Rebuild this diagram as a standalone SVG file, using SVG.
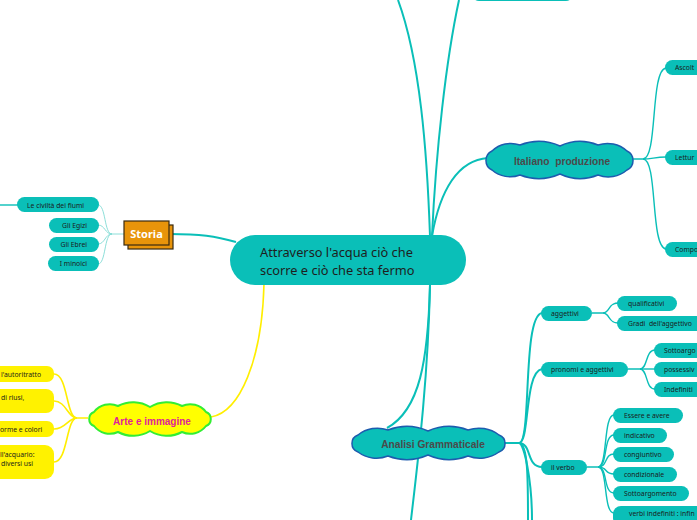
<svg xmlns="http://www.w3.org/2000/svg" width="697" height="520" viewBox="0 0 697 520">
<style>
.pill{fill:#0abfb8}
.ypill{fill:#fff200}
.t{font-family:"Noto Sans","Open Sans",sans-serif;font-size:6.8px;fill:#1a1a1a}
.main{fill:none;stroke:#0abfb8;stroke-width:2}
.sub{fill:none;stroke:#0abfb8;stroke-width:1.4}
.thin{fill:none;stroke:#7fdad4;stroke-width:0.9}
.yel{fill:none;stroke:#ffee00;stroke-width:1.6}
.cloudT{font-family:"Liberation Sans",Arial,sans-serif;font-weight:bold;font-size:10.2px;fill:#4a4a4a}
</style>
<rect width="697" height="520" fill="#ffffff"/>
<g id="connectors">
<path class="main" d="M170,234 C200,234 215,236 236,242"/>
<path class="yel" d="M264,284 C262,360 240,412 211,417"/>
<path class="main" d="M432,236 C440,190 458,160 488,158"/>
<path class="main" d="M430,236 C427,150 420,60 398,0"/>
<path class="main" d="M432,236 C436,150 446,60 459,0"/>
<path class="main" d="M430,285 C428,360 420,410 387,428"/>
<path class="main" d="M430,285 C428,380 418,460 411,520"/>
<path class="sub" d="M0,205 L18,205"/>
<path class="thin" d="M124,234 L112,234 C104,234 106,205 98,205"/>
<path class="thin" d="M112,234 C105,234 105,225 98,225"/>
<path class="thin" d="M112,234 C105,234 105,244 98,244"/>
<path class="thin" d="M112,234 C104,234 106,264 98,264"/>
<path class="yel" d="M88,418 L77,418 C66,418 68,374 54,374"/>
<path class="yel" d="M77,418 C68,418 66,401 54,401"/>
<path class="yel" d="M77,418 C68,418 66,429 54,429"/>
<path class="yel" d="M77,418 C66,418 68,462 54,462"/>
<path class="sub" d="M632,159 L643,159 C658,159 650,70 666,68"/>
<path class="sub" d="M643,159 C652,159 655,157 666,157"/>
<path class="sub" d="M643,159 C658,159 650,247 666,249"/>
<path class="main" d="M505,443 L519,443 C532,443 522,316 542,313"/>
<path class="main" d="M519,443 C530,443 524,372 542,369"/>
<path class="main" d="M519,443 C532,443 526,467 542,467"/>
<path class="main" d="M519,443 C528,443 528,480 528,520"/>
<path class="main" d="M519,443 C524,443 532,480 532,520"/>
<path class="sub" d="M592,313 L603,313 C610,313 608,303 618,303"/>
<path class="sub" d="M603,313 C610,313 608,323 618,323"/>
<path class="sub" d="M628,369 L640,369 C648,369 645,350 655,350"/>
<path class="sub" d="M640,369 L655,369"/>
<path class="sub" d="M640,369 C648,369 645,389 655,389"/>
<path class="sub" d="M587,467 L598,467 C608,467 603,415 614,415"/>
<path class="sub" d="M598,467 C608,467 603,435 614,435"/>
<path class="sub" d="M598,467 C608,467 604,454 614,454"/>
<path class="sub" d="M598,467 C608,467 604,474 614,474"/>
<path class="sub" d="M598,467 C608,467 603,493 614,493"/>
<path class="sub" d="M598,467 C608,467 603,513 614,513"/>
</g>
<g id="central">
<rect x="230" y="235" width="236" height="50" rx="25" fill="#0abfb8"/>
<text x="260" y="257" font-family="'Noto Sans','Open Sans',sans-serif" font-size="12.8" fill="#1e1e1e">Attraverso l'acqua ciò che</text>
<text x="260" y="275" font-family="'Noto Sans','Open Sans',sans-serif" font-size="12.8" fill="#1e1e1e">scorre e ciò che sta fermo</text>
</g>
<g id="storia">
<rect x="128" y="225" width="45" height="24" fill="#e8940a" stroke="#3a2a10" stroke-width="1.2"/>
<rect x="124" y="221" width="45" height="24" fill="#e8940a" stroke="#3a2a10" stroke-width="1.2"/>
<text x="146.5" y="237.5" text-anchor="middle" font-family="'Noto Sans','Open Sans',sans-serif" font-weight="bold" font-size="11" fill="#ffffff">Storia</text>
</g>
<g id="storia-civilta"><rect class="pill" x="17" y="197" width="82" height="15" rx="7.5"/><text class="t" x="27" y="207.5">Le civiltà dei fiumi</text></g>
<g id="storia-egizi"><rect class="pill" x="49" y="218" width="50" height="15" rx="7.5"/><text class="t" x="87" y="227.5" text-anchor="end">Gli Egizi</text></g>
<g id="storia-ebrei"><rect class="pill" x="49" y="237" width="50" height="15" rx="7.5"/><text class="t" x="87" y="247" text-anchor="end">Gli Ebrei</text></g>
<g id="storia-minoici"><rect class="pill" x="48" y="256" width="51" height="15" rx="7.5"/><text class="t" x="87" y="266" text-anchor="end">I minoici</text></g>
<g id="arte">
<path d="M94,412 A20,20 0 0 1 118,406 A32,32 0 0 1 150,407 A32,32 0 0 1 182,406 A20,20 0 0 1 206,412 A7.5,7.5 0 0 1 206,426 A20,20 0 0 1 182,432 A32,32 0 0 1 150,431 A32,32 0 0 1 118,432 A20,20 0 0 1 94,426 A7.5,7.5 0 0 1 94,412 Z" fill="#ffff00" stroke="#33ee33" stroke-width="2"/>
<text x="152" y="424.5" text-anchor="middle" font-family="'Liberation Sans',Arial,sans-serif" font-weight="bold" font-size="10" fill="#e0229a">Arte e immagine</text>
</g>
<g id="arte-1"><rect class="ypill" x="-20" y="366" width="74" height="16" rx="7"/><text class="t" x="1" y="376.5">l'autoritratto</text></g>
<g id="arte-2"><rect class="ypill" x="-20" y="389" width="74" height="24" rx="8"/><text class="t" x="1" y="399.5">di riusi,</text></g>
<g id="arte-3"><rect class="ypill" x="-20" y="421" width="74" height="16" rx="7"/><text class="t" x="0" y="431.5">orme e colori</text></g>
<g id="arte-4"><rect class="ypill" x="-20" y="445" width="74" height="34" rx="9"/><text class="t" x="0" y="456.5">ll'acquario:</text><text class="t" x="1" y="465.5">diversi usi</text></g>
<g id="top-node"><rect class="pill" x="472" y="-14" width="101" height="15" rx="7"/></g>
<g id="italiano">
<path d="M492,151 A27.5,27.5 0 0 1 520,145 A52,52 0 0 1 560,146 A47,47 0 0 1 598,145 A29,29 0 0 1 627,151 A10.5,10.5 0 0 1 627,170 A29,29 0 0 1 598,175 A47,47 0 0 1 560,174 A52,52 0 0 1 520,175 A27.7,27.7 0 0 1 492,170 A10.5,10.5 0 0 1 492,151 Z" fill="#0abfb8" stroke="#1d5cae" stroke-width="1.5"/>
<text class="cloudT" x="562" y="164.5" text-anchor="middle">Italiano&#160; produzione</text>
</g>
<g id="ital-ascolto"><rect class="pill" x="665" y="60" width="60" height="15" rx="7.5"/><text class="t" x="675" y="70">Ascolt</text></g>
<g id="ital-lettura"><rect class="pill" x="665" y="150" width="60" height="15" rx="7.5"/><text class="t" x="675" y="160">Lettur</text></g>
<g id="ital-compo"><rect class="pill" x="665" y="242" width="60" height="15" rx="7.5"/><text class="t" x="675" y="252">Compo</text></g>
<g id="analisi">
<path d="M358,435 A31,31 0 0 1 388,430 A52,52 0 0 1 428,431 A52,52 0 0 1 468,430 A33,33 0 0 1 499,435 A9,9 0 0 1 499,452 A33,33 0 0 1 468,456 A52,52 0 0 1 428,455 A52,52 0 0 1 388,456 A31,31 0 0 1 358,452 A9,9 0 0 1 358,435 Z" fill="#0abfb8" stroke="#1d5cae" stroke-width="1.5"/>
<text class="cloudT" x="433" y="447.5" text-anchor="middle">Analisi Grammaticale</text>
</g>
<g id="agg"><rect class="pill" x="541" y="306" width="51" height="15" rx="7.5"/><text class="t" x="551" y="316">aggettivi</text></g>
<g id="agg-qual"><rect class="pill" x="617" y="296" width="60" height="15" rx="7.5"/><text class="t" x="628" y="306">qualificativi</text></g>
<g id="agg-gradi"><rect class="pill" x="617" y="316" width="90" height="15" rx="7.5"/><text class="t" x="628" y="326">Gradi&#160; dell'aggettivo</text></g>
<g id="pron"><rect class="pill" x="541" y="362" width="87" height="15" rx="7.5"/><text class="t" x="551" y="372">pronomi e aggettivi</text></g>
<g id="pron-sotto"><rect class="pill" x="654" y="343" width="60" height="15" rx="7.5"/><text class="t" x="664" y="353">Sottoargo</text></g>
<g id="pron-poss"><rect class="pill" x="654" y="362" width="60" height="15" rx="7.5"/><text class="t" x="664" y="372">possessiv</text></g>
<g id="pron-indef"><rect class="pill" x="654" y="382" width="60" height="15" rx="7.5"/><text class="t" x="664" y="392">Indefiniti</text></g>
<g id="verbo"><rect class="pill" x="541" y="460" width="46" height="15" rx="7.5"/><text class="t" x="551" y="470">il verbo</text></g>
<g id="v-essere"><rect class="pill" x="613" y="408" width="70" height="15" rx="7.5"/><text class="t" x="624" y="418">Essere e avere</text></g>
<g id="v-ind"><rect class="pill" x="613" y="428" width="54" height="15" rx="7.5"/><text class="t" x="624" y="438">indicativo</text></g>
<g id="v-cong"><rect class="pill" x="613" y="447" width="61" height="15" rx="7.5"/><text class="t" x="624" y="457">congiuntivo</text></g>
<g id="v-cond"><rect class="pill" x="613" y="467" width="64" height="15" rx="7.5"/><text class="t" x="624" y="477">condizionale</text></g>
<g id="v-sotto"><rect class="pill" x="613" y="486" width="76" height="15" rx="7.5"/><text class="t" x="624" y="496">Sottoargomento</text></g>
<g id="v-indef"><rect class="pill" x="613" y="506" width="100" height="20" rx="8"/><text class="t" x="629" y="516">verbi indefiniti : infin</text></g>
</svg>
